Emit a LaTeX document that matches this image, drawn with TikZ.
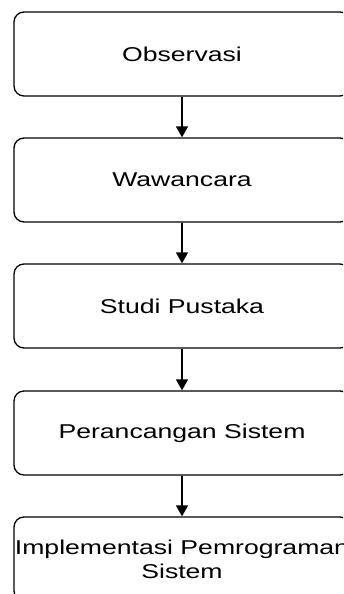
\documentclass[tikz,border=0pt]{standalone}
\usepackage{fontspec}
\setmainfont{Liberation Sans}
\usetikzlibrary{arrows.meta}
\newcommand{\wide}[1]{\scalebox{1.33}[1]{#1}}
\begin{document}
\begin{tikzpicture}[x=1pt,y=-1pt,
  stepbox/.style={draw=black, line width=1.3pt, rounded corners=10pt,
    minimum width=336pt, minimum height=84pt, inner sep=0pt, align=center,
    font=\fontsize{20pt}{24pt}\selectfont},
  flow/.style={draw=black, line width=1.3pt, -{Triangle[width=12pt,length=11pt]}}]
\useasboundingbox (0,0) rectangle (343,594);
\clip (0,0) rectangle (343,594);
\node[stepbox] (obs) at (182,54) {\wide{Observasi}};
\node[stepbox] (waw) at (182,180) {\wide{Wawancara}};
\node[stepbox] (stu) at (182,306) {\wide{Studi Pustaka}};
\node[stepbox] (per) at (182,433) {\wide{Perancangan Sistem}};
\node[stepbox] (imp) at (182,559) {\wide{Implementasi Pemrograman}\\\wide{Sistem}};
\draw[flow] (obs) -- (waw);
\draw[flow] (waw) -- (stu);
\draw[flow] (stu) -- (per);
\draw[flow] (per) -- (imp);
\end{tikzpicture}
\end{document}
